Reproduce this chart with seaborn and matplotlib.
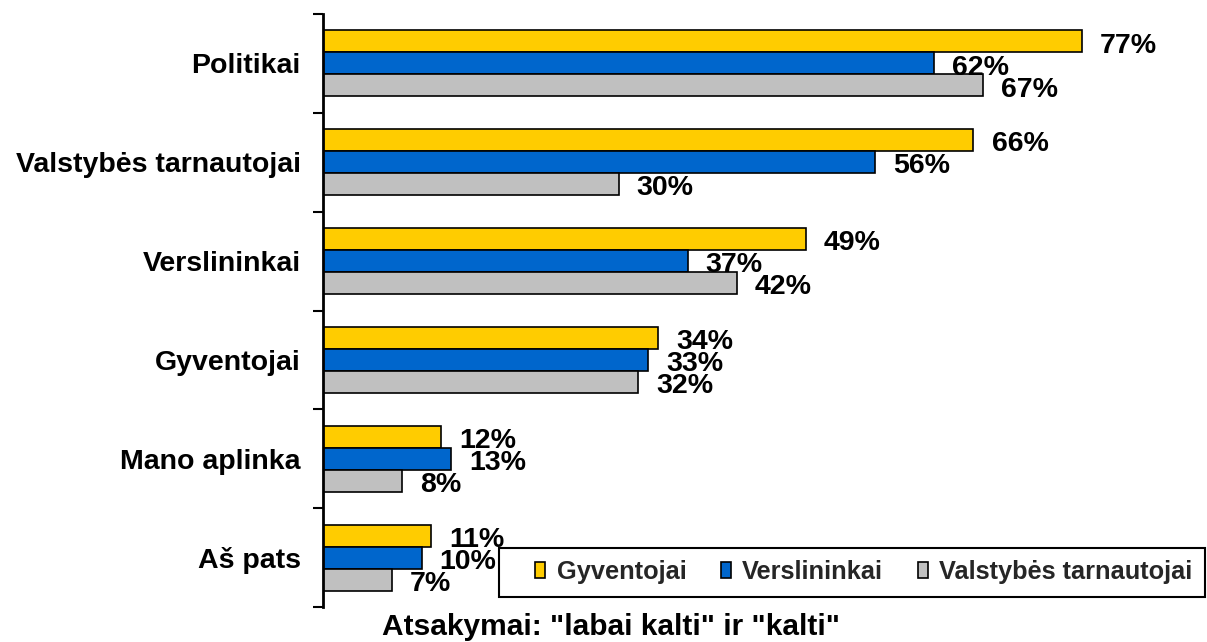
import matplotlib
matplotlib.use("Agg")
import matplotlib.pyplot as plt
from matplotlib.patches import Rectangle
import seaborn as sns
import pandas as pd

categories = ["Politikai", "Valstybės tarnautojai", "Verslininkai", "Gyventojai", "Mano aplinka", "Aš pats"]
series = ["Gyventojai", "Verslininkai", "Valstybės tarnautojai"]
gyventojai = [77, 66, 49, 34, 12, 11]
verslininkai = [62, 56, 37, 33, 13, 10]
valstybes = [67, 30, 42, 32, 8, 7]
colors = ["#FFCC00", "#0066CC", "#C0C0C0"]
xlabel_text = 'Atsakymai: "labai kalti" ir "kalti"'

rows = []
for s, vals in zip(series, [gyventojai, verslininkai, valstybes]):
    for c, v in zip(categories, vals):
        rows.append({"category": c, "series": s, "value": v})
df = pd.DataFrame(rows)

sns.set_theme(style="white")
plt.rcParams['font.family'] = ['Liberation Sans', 'DejaVu Sans']
plt.rcParams['font.weight'] = 'bold'

W, H = 1207, 642
fig = plt.figure(figsize=(W / 100, H / 100), dpi=100)
ax = fig.add_axes([323 / W, 35 / H, 887 / W, 593 / H])

sns.barplot(data=df, y="category", x="value", hue="series", hue_order=series,
            order=categories, orient="h", palette=colors, width=0.667,
            edgecolor="black", linewidth=1.2, saturation=1, ax=ax, legend=False)

ax.set_xlim(0, 90)
ax.set_ylim(len(categories) - 0.5, -0.5)
ax.set_xlabel("")
ax.set_ylabel("")
ax.set_xticks([])
ax.set_yticks(range(len(categories)))
ax.set_yticklabels(categories, fontsize=20.5, fontweight='bold', color='black')
ax.set_yticks([i - 0.5 for i in range(len(categories) + 1)], minor=True)
ax.tick_params(axis='y', which='major', length=0, pad=16)
ax.tick_params(axis='y', which='minor', length=7, width=1.5, color='black', left=True)
for side in ["top", "right", "bottom"]:
    ax.spines[side].set_visible(False)
ax.spines["left"].set_color("black")
ax.spines["left"].set_linewidth(2)

for cont, vals in zip(ax.containers, [gyventojai, verslininkai, valstybes]):
    anns = ax.bar_label(cont, labels=[f"{v}%" for v in vals], padding=13,
                        fontsize=20.5, fontweight='bold', color='black')
    for a in anns:
        a.xyann = (13, -3)

# legend frame
fig.patches.append(Rectangle((499 / W, 1 - 597 / H), 706 / W, 49 / H,
                             transform=fig.transFigure, fill=True,
                             facecolor='white', edgecolor='black', lw=1.5, zorder=5))
leg = fig.legend(handles=list(ax.containers), labels=series, loc='center left',
                 bbox_to_anchor=(535 / W, 1 - 572 / H), ncol=3,
                 frameon=False, fontsize=18.3, borderpad=0, borderaxespad=0,
                 handlelength=0.4, handleheight=0.6, handletextpad=0.45,
                 columnspacing=1.35)
leg.set_zorder(6)

fig.text(611 / W, 1 - 627 / H, xlabel_text, ha='center', va='center',
         fontsize=21.5, fontweight='bold', color='black')

fig.savefig("out.png", dpi=100)
